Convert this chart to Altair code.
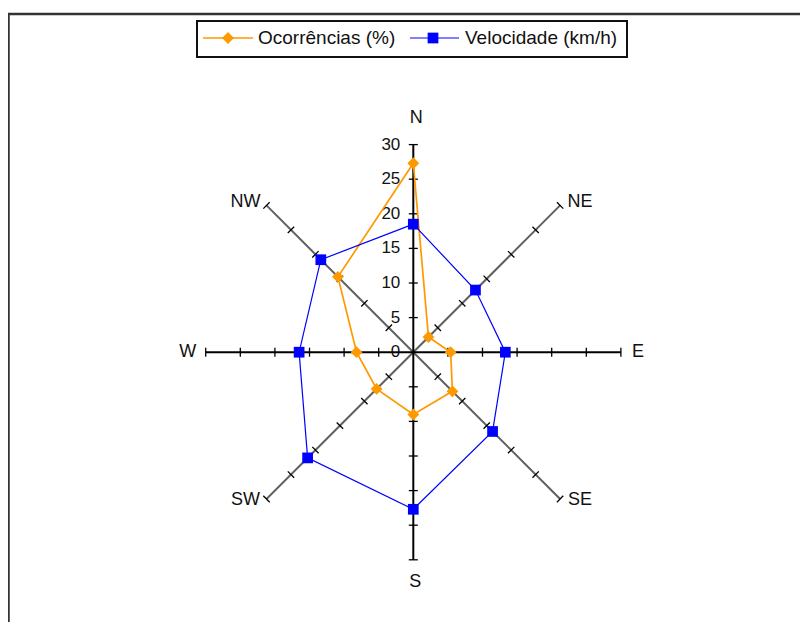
import altair as alt
import pandas as pd

# ---------------- data ----------------
directions = ["N", "NE", "E", "SE", "S", "SW", "W", "NW"]
ocorrencias = [27.3, 3.1, 5.4, 8.0, 9.0, 7.5, 8.2, 15.4]
velocidade = [18.5, 12.7, 13.3, 16.2, 22.7, 21.6, 16.5, 18.9]
tick_values = [0, 5, 10, 15, 20, 25, 30]
series_names = ["Ocorrências (%)", "Velocidade (km/h)"]
series_colors = ["#FF9900", "#0000FF"]
axis_max = 30

# ---------------- layout ----------------
W, H = 792, 614
CX, CY = 405.3, 344.2     # centre of the radar in chart pixels
K = 6.92                  # pixels per unit
xs = alt.Scale(domain=[-CX / K, (W - CX) / K], nice=False, zero=False)
ys = alt.Scale(domain=[-(H - CY) / K, CY / K], nice=False, zero=False)
FONT = "Liberation Sans"
TXT = "#111111"
HALF_TICK = 4.5 / K

# ---------------- tables built from the lists ----------------
rows = []
for name, vals in zip(series_names, [ocorrencias, velocidade]):
    for i in range(len(directions) + 1):
        rows.append({"series": name, "i": i, "dir": directions[i % 8], "value": vals[i % 8]})
series_df = pd.DataFrame(rows)

spoke_df = pd.DataFrame({"i": list(range(8)), "dir": directions, "r": [axis_max] * 8})
tick_df = pd.DataFrame([{"i": i, "v": v} for i in range(8) for v in tick_values if v > 0])
label_df = pd.DataFrame({"v": tick_values, "lab": [str(v) for v in tick_values]})

X = lambda f: alt.X(f, scale=xs, axis=None)
Y = lambda f: alt.Y(f, scale=ys, axis=None)

layers = []

# spokes
spokes = alt.Chart(spoke_df).transform_calculate(
    x0="0", y0="0",
    ex="datum.r*sin(datum.i*PI/4)", ey="datum.r*cos(datum.i*PI/4)",
)
layers.append(spokes.transform_filter("datum.i % 2 == 1").mark_rule(color="#606060", strokeWidth=2).encode(
    x=X("x0:Q"), y=Y("y0:Q"), x2="ex:Q", y2="ey:Q"))
layers.append(spokes.transform_filter("datum.i % 2 == 0").mark_rule(color="#000000", strokeWidth=2).encode(
    x=X("x0:Q"), y=Y("y0:Q"), x2="ex:Q", y2="ey:Q"))

# tick marks
ticks = alt.Chart(tick_df).transform_calculate(
    tx1=f"datum.v*sin(datum.i*PI/4) + {HALF_TICK}*cos(datum.i*PI/4)",
    ty1=f"datum.v*cos(datum.i*PI/4) - {HALF_TICK}*sin(datum.i*PI/4)",
    tx2=f"datum.v*sin(datum.i*PI/4) - {HALF_TICK}*cos(datum.i*PI/4)",
    ty2=f"datum.v*cos(datum.i*PI/4) + {HALF_TICK}*sin(datum.i*PI/4)",
).mark_rule(color="#000000", strokeWidth=1.3).encode(
    x=X("tx1:Q"), y=Y("ty1:Q"), x2="tx2:Q", y2="ty2:Q")
layers.append(ticks)

# tick labels
layers.append(alt.Chart(label_df).transform_calculate(zx="0").mark_text(
    align="right", baseline="middle", dx=-13, fontSize=17, font=FONT, color=TXT
).encode(x=X("zx:Q"), y=Y("v:Q"), text="lab:N"))

# direction labels
offsets = {"N": (3, -27), "NE": (20, -3), "E": (17, 0), "SE": (20, 1),
           "S": (2, 22), "SW": (-21, 1), "W": (-18, 0), "NW": (-21, -3)}
for d in directions:
    dx, dy = offsets[d]
    layers.append(spokes.transform_filter(alt.datum.dir == d).mark_text(
        align="center", baseline="middle", dx=dx, dy=dy, fontSize=18, font=FONT, color=TXT
    ).encode(x=X("ex:Q"), y=Y("ey:Q"), text="dir:N"))

# series
base = alt.Chart(series_df).transform_calculate(
    px="datum.value*sin(datum.i*PI/4)", py="datum.value*cos(datum.i*PI/4)")
shapes = ["diamond", "square"]
sizes = [140, 115]
widths = [1.7, 1.2]
for name, col, shp, sz, sw in zip(series_names, series_colors, shapes, sizes, widths):
    s = base.transform_filter(alt.datum.series == name)
    layers.append(s.mark_line(color=col, strokeWidth=sw).encode(
        x=X("px:Q"), y=Y("py:Q"), order="i:Q"))
    layers.append(s.transform_filter("datum.i < 8").mark_point(
        shape=shp, filled=True, size=sz, color=col, opacity=1).encode(
        x=X("px:Q"), y=Y("py:Q")))

# frame
one = alt.Data(values=[{"k": 1}])
layers.append(alt.Chart(one).mark_rule(color="#333333", strokeWidth=2.5).encode(
    x=alt.value(0), x2=alt.value(W), y=alt.value(6)))
layers.append(alt.Chart(one).mark_rule(color="#333333", strokeWidth=2.5).encode(
    x=alt.value(0.5), y=alt.value(6), y2=alt.value(H)))

# legend (manual, Excel style)
layers.append(alt.Chart(one).mark_rect(fill="white", stroke="#111111", strokeWidth=2).encode(
    x=alt.value(189), x2=alt.value(619), y=alt.value(13), y2=alt.value(49)))
leg_pos = [(195, 245, 220, 250), (402, 451, 425, 457)]
for (x1, x2, xm, xt), name, col, shp, sz, sw in zip(leg_pos, series_names, series_colors, shapes, sizes, widths):
    layers.append(alt.Chart(one).mark_rule(color=col, strokeWidth=sw).encode(
        x=alt.value(x1), x2=alt.value(x2), y=alt.value(30)))
    layers.append(alt.Chart(one).mark_point(shape=shp, filled=True, size=sz, color=col, opacity=1).encode(
        x=alt.value(xm), y=alt.value(30)))
    layers.append(alt.Chart(one).mark_text(text=name, align="left", baseline="middle",
                                           fontSize=19, font=FONT, color=TXT).encode(
        x=alt.value(xt), y=alt.value(30)))

chart = alt.layer(*layers).properties(
    width=W, height=H, padding=0, background="white",
    autosize=alt.AutoSizeParams(type="none"),
).configure_view(stroke=None)

chart.save("out.html", embed_options={"renderer": "svg", "actions": False})
